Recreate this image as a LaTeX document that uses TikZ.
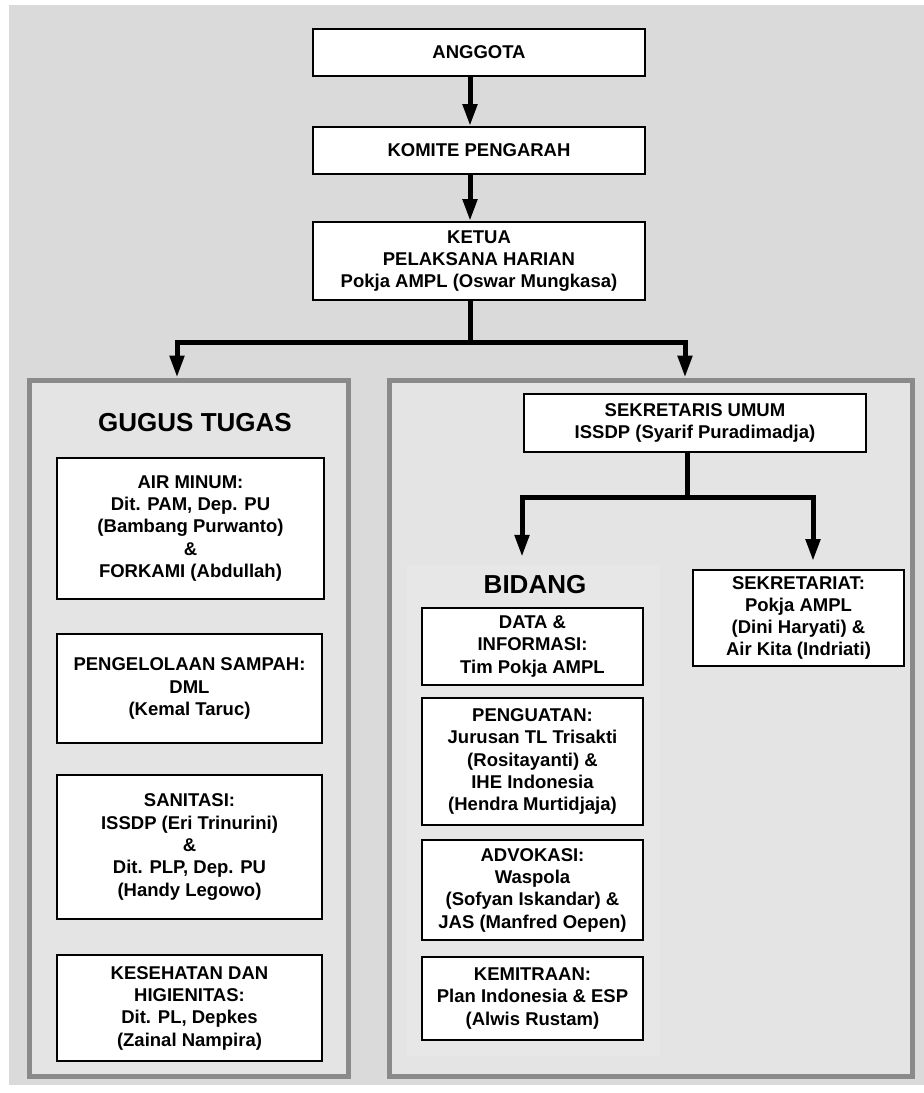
\documentclass[tikz,border=0pt]{standalone}
\usepackage{fontspec}
\setmainfont{Liberation Sans}
\usetikzlibrary{arrows.meta,calc}
\definecolor{bgc}{HTML}{DADADA}
\definecolor{panelfill}{HTML}{E4E4E4}
\definecolor{panelline}{HTML}{8A8A8A}
\definecolor{bidfill}{HTML}{E7E7E7}
\newcommand{\boxfont}{\fontsize{18.5}{22.3}\selectfont\bfseries}
\newcommand{\headfont}{\fontsize{26}{30}\selectfont\bfseries}
\begin{document}
\begin{tikzpicture}[x=1pt,y=-1pt,
  orgbox/.style={draw=black,line width=2pt,fill=white,inner sep=0pt,align=center,font=\boxfont},
  panelbox/.style={draw=panelline,line width=5pt,fill=panelfill,inner sep=0pt},
  bidbox/.style={fill=bidfill,draw=none,inner sep=0pt},
  headtext/.style={font=\headfont,inner sep=0pt},
  link/.style={line width=5pt,draw=black},
  arr/.style={line width=5pt,draw=black,-{Triangle[length=22pt,width=14pt]}},
]
\useasboundingbox (0,0) rectangle (924,1093);
\fill[white] (0,0) rectangle (924,1093);
\fill[bgc] (9,5) rectangle (924,1085);

% panels
\node[panelbox,minimum width=319pt,minimum height=696pt] (lp) at (188.5,728) {};
\node[panelbox,minimum width=523pt,minimum height=696pt] (rp) at (650.5,728) {};
\node[bidbox,minimum width=253pt,minimum height=491pt] (bp) at (533.5,810.5) {};

% top chain
\node[orgbox,minimum width=332pt,minimum height=47pt] (ang) at (479,52.5) {ANGGOTA};
\node[orgbox,minimum width=332pt,minimum height=47pt] (kom) at (479,150.5) {KOMITE PENGARAH};
\node[orgbox,minimum width=332pt,minimum height=78pt] (ket) at (479,261) {KETUA\\PELAKSANA HARIAN\\Pokja AMPL (Oswar Mungkasa)};

% left panel
\node[headtext] (gt) at (195,423) {GUGUS TUGAS};
\node[orgbox,minimum width=267pt,minimum height=141pt] (air) at (190.5,528.5) {AIR MINUM:\\Dit. PAM, Dep. PU\\(Bambang Purwanto)\\\&\\FORKAMI (Abdullah)};
\node[orgbox,minimum width=265pt,minimum height=109pt] (sam) at (189.5,688.5) {PENGELOLAAN SAMPAH:\\DML\\(Kemal Taruc)};
\node[orgbox,minimum width=265pt,minimum height=144pt] (san) at (189.5,847) {SANITASI:\\ISSDP (Eri Trinurini)\\\&\\Dit. PLP, Dep. PU\\(Handy Legowo)};
\node[orgbox,minimum width=265pt,minimum height=106pt] (kes) at (189.5,1008) {KESEHATAN DAN\\HIGIENITAS:\\Dit. PL, Depkes\\(Zainal Nampira)};

% right panel
\node[orgbox,minimum width=342pt,minimum height=58pt] (seku) at (695,423) {SEKRETARIS UMUM\\ISSDP (Syarif Puradimadja)};
\node[orgbox,minimum width=211pt,minimum height=96pt] (sekt) at (798.5,618) {SEKRETARIAT:\\Pokja AMPL\\(Dini Haryati) \&\\Air Kita (Indriati)};
\node[headtext] (bid) at (535,585) {BIDANG};
\node[orgbox,minimum width=221pt,minimum height=77pt] (dat) at (532.5,646.5) {DATA \&\\INFORMASI:\\Tim Pokja AMPL};
\node[orgbox,minimum width=221pt,minimum height=127pt] (pen) at (532.5,761.5) {PENGUATAN:\\Jurusan TL Trisakti\\(Rositayanti) \&\\IHE Indonesia\\(Hendra Murtidjaja)};
\node[orgbox,minimum width=221pt,minimum height=100pt] (adv) at (532.5,890) {ADVOKASI:\\Waspola\\(Sofyan Iskandar) \&\\JAS (Manfred Oepen)};
\node[orgbox,minimum width=221pt,minimum height=83pt] (kem) at (532.5,998.5) {KEMITRAAN:\\Plan Indonesia \& ESP\\(Alwis Rustam)};

% connectors
\coordinate (cx) at (470,0);
\coordinate (lx) at (177,0);
\coordinate (rx) at (685,0);
\coordinate (split1) at (470,342);
\draw[arr] (ang.south -| cx) -- (kom.north -| cx);
\draw[arr] (kom.south -| cx) -- (ket.north -| cx);
\draw[link] (ket.south -| cx) -- (split1);
\draw[arr] (split1) -| (lp.north -| lx);
\draw[arr] (split1) -| (rp.north -| rx);

\coordinate (sx) at (687,0);
\coordinate (blx) at (522,0);
\coordinate (brx) at (813,0);
\coordinate (split2) at (687,497);
\draw[link] (seku.south -| sx) -- (split2);
\draw[arr,shorten >=8pt] (split2) -| (bp.north -| blx);
\draw[arr,shorten >=8pt] (split2) -| (sekt.north -| brx);
\end{tikzpicture}
\end{document}
